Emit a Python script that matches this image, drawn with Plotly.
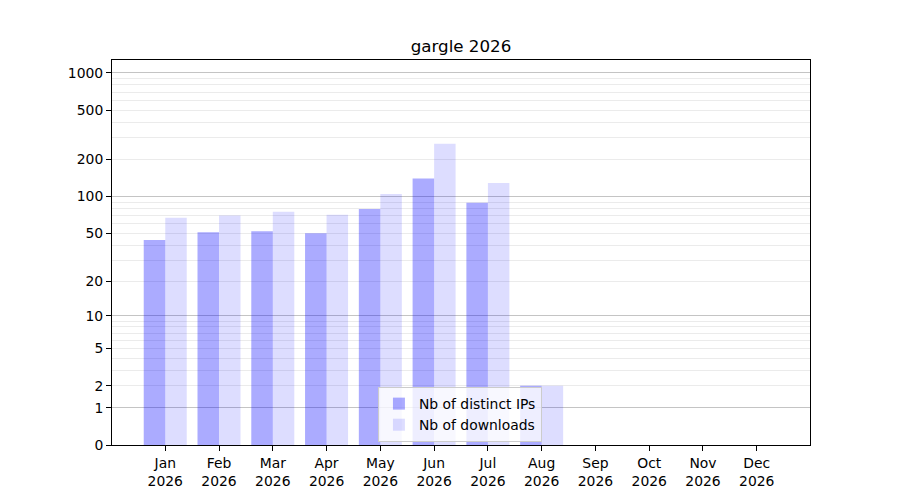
import numpy as np
import plotly.graph_objects as go

months = ["Jan", "Feb", "Mar", "Apr", "May", "Jun", "Jul", "Aug", "Sep", "Oct", "Nov", "Dec"]
year = "2026"
distinct_ips = [44, 51, 52, 50, 79, 140, 89, 2, 0, 0, 0, 0]
downloads = [67, 70, 75, 71, 105, 268, 129, 2, 0, 0, 0, 0]
ytick_labels = [0, 1, 2, 5, 10, 20, 50, 100, 200, 500, 1000]
decades = [1, 10, 100, 1000]


def tr(v):
    # log(1 + x) scale, so zero stays on the axis
    return np.log10(1 + np.asarray(v, dtype=float))


cats = [m + "<br>" + year for m in months]
minor_vals = [m * d for d in decades[:-1] for m in range(2, 10)]
ymax = 3.105

fig = go.Figure()
# empty trace so the overlay axis (grid only) gets drawn
fig.add_scatter(x=cats, y=tr(downloads), yaxis="y2", mode="none", showlegend=False, hoverinfo="skip")
fig.add_bar(x=cats, y=tr(distinct_ips), name="Nb of distinct IPs",
            marker=dict(color="rgba(0,0,255,0.33)", line_width=0))
fig.add_bar(x=cats, y=tr(downloads), name="Nb of downloads",
            marker=dict(color="rgba(0,0,255,0.135)", line_width=0))

font = dict(family="DejaVu Sans", size=13.9, color="black")

fig.update_layout(
    width=900, height=500,
    margin=dict(l=112, r=90, t=60, b=55),
    plot_bgcolor="white", paper_bgcolor="white",
    barmode="group", bargap=0.2, bargroupgap=0,
    font=font,
    title=dict(text="gargle 2026", x=0.5, xref="paper", y=1 - 46 / 500, yref="container",
               yanchor="middle", xanchor="center", font=dict(family="DejaVu Sans", size=16.7)),
    legend=dict(x=0.381, y=0.079, xanchor="left", yanchor="middle", traceorder="normal",
                bgcolor="rgba(255,255,255,0.8)", bordercolor="#cccccc", borderwidth=1,
                font=dict(family="DejaVu Sans", size=13.9)),
    xaxis=dict(range=[-0.99, 11.99], showline=True, mirror=True, linecolor="black", linewidth=1,
               ticks="outside", ticklen=5, tickwidth=1, tickcolor="black", showgrid=False),
    yaxis=dict(range=[0, ymax], tickmode="array", tickvals=tr(ytick_labels),
               ticktext=[str(v) for v in ytick_labels],
               showline=True, mirror=True, linecolor="black", linewidth=1,
               ticks="outside", ticklen=5, tickwidth=1, tickcolor="black",
               showgrid=False, zeroline=False),
    yaxis2=dict(range=[0, ymax], overlaying="y", side="left", tickmode="array",
                tickvals=tr(minor_vals), showticklabels=False, ticks="",
                showgrid=True, gridcolor="#ebebeb", gridwidth=1, zeroline=False,
                minor=dict(tickmode="array", tickvals=tr(decades), showgrid=True,
                           gridcolor="#c4c4c4", gridwidth=1, ticks="")),
)

fig.write_html("out.html", config={"displayModeBar": False},
               post_script="document.body.style.margin='0px';")
